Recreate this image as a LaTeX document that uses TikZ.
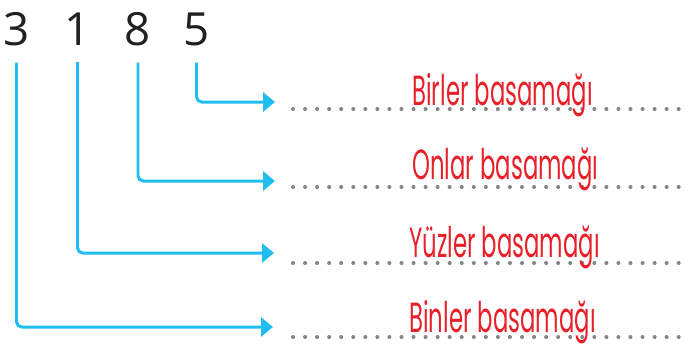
\documentclass[tikz,border=0pt]{standalone}
\usepackage{fontspec}
\usepackage{graphicx}
\usepackage{xcolor}
\usepackage{tikz}
\usetikzlibrary{arrows.meta}

\newfontfamily\digitfont{Open Sans}
\newfontfamily\placefont{Poppins}
\definecolor{digitgray}{HTML}{231F20}
\definecolor{arrowcyan}{HTML}{20BEEE}
\definecolor{labelred}{HTML}{E8202A}
\definecolor{dotgray}{HTML}{858585}
\newcommand{\narrowtext}[1]{\scalebox{0.54}[1]{#1}}

\begin{document}
\begin{tikzpicture}[
    x=0.02cm, y=-0.02cm,
    digit/.style={font=\digitfont\fontsize{26pt}{28pt}\selectfont, text=digitgray, inner sep=0pt, anchor=base},
    conn/.style={-{Triangle[length=6.8pt, width=10.8pt]}, line width=1.7pt, draw=arrowcyan, rounded corners=3pt, shorten <=9.6pt},
    place/.style={font=\placefont\fontsize{24pt}{26pt}\selectfont, text=labelred, inner sep=0pt, anchor=base west},
    dots/.style={draw=dotgray, line width=2.3pt, line cap=round, dash pattern=on 0pt off 6.86pt}
]
    \useasboundingbox (0,0) rectangle (686,346);

    % Number
    \node[digit] (d3) at (16.5,45) {3};
    \node[digit] (d1) at (77.5,45) {1};
    \node[digit] (d8) at (138,45) {8};
    \node[digit] (d5) at (196.5,45) {5};

    % Arrow ends
    \coordinate (r5) at (275,102);
    \coordinate (r8) at (275,181);
    \coordinate (r1) at (274,253);
    \coordinate (r3) at (273,327);

    % Dotted lines
    \coordinate (s5) at (293,109);  \coordinate (e5) at (686,109);
    \coordinate (s8) at (293,187);  \coordinate (e8) at (686,187);
    \coordinate (s1) at (293,263);  \coordinate (e1) at (686,263);
    \coordinate (s3) at (293,337);  \coordinate (e3) at (686,337);
    \draw[dots] (s5) -- (e5);
    \draw[dots] (s8) -- (e8);
    \draw[dots] (s1) -- (e1);
    \draw[dots] (s3) -- (e3);

    % Place names
    \node[place] (p5) at (412,105) {\narrowtext{Birler basamağı}};
    \node[place] (p8) at (412,179) {\narrowtext{Onlar basamağı}};
    \node[place] (p1) at (409,257) {\narrowtext{Yüzler basamağı}};
    \node[place] (p3) at (409,332) {\narrowtext{Binler basamağı}};

    % Connections
    \draw[conn] (d5.south) |- (r5);
    \draw[conn] (d8.south) |- (r8);
    \draw[conn] (d1.south) |- (r1);
    \draw[conn] (d3.south) |- (r3);
\end{tikzpicture}
\end{document}
